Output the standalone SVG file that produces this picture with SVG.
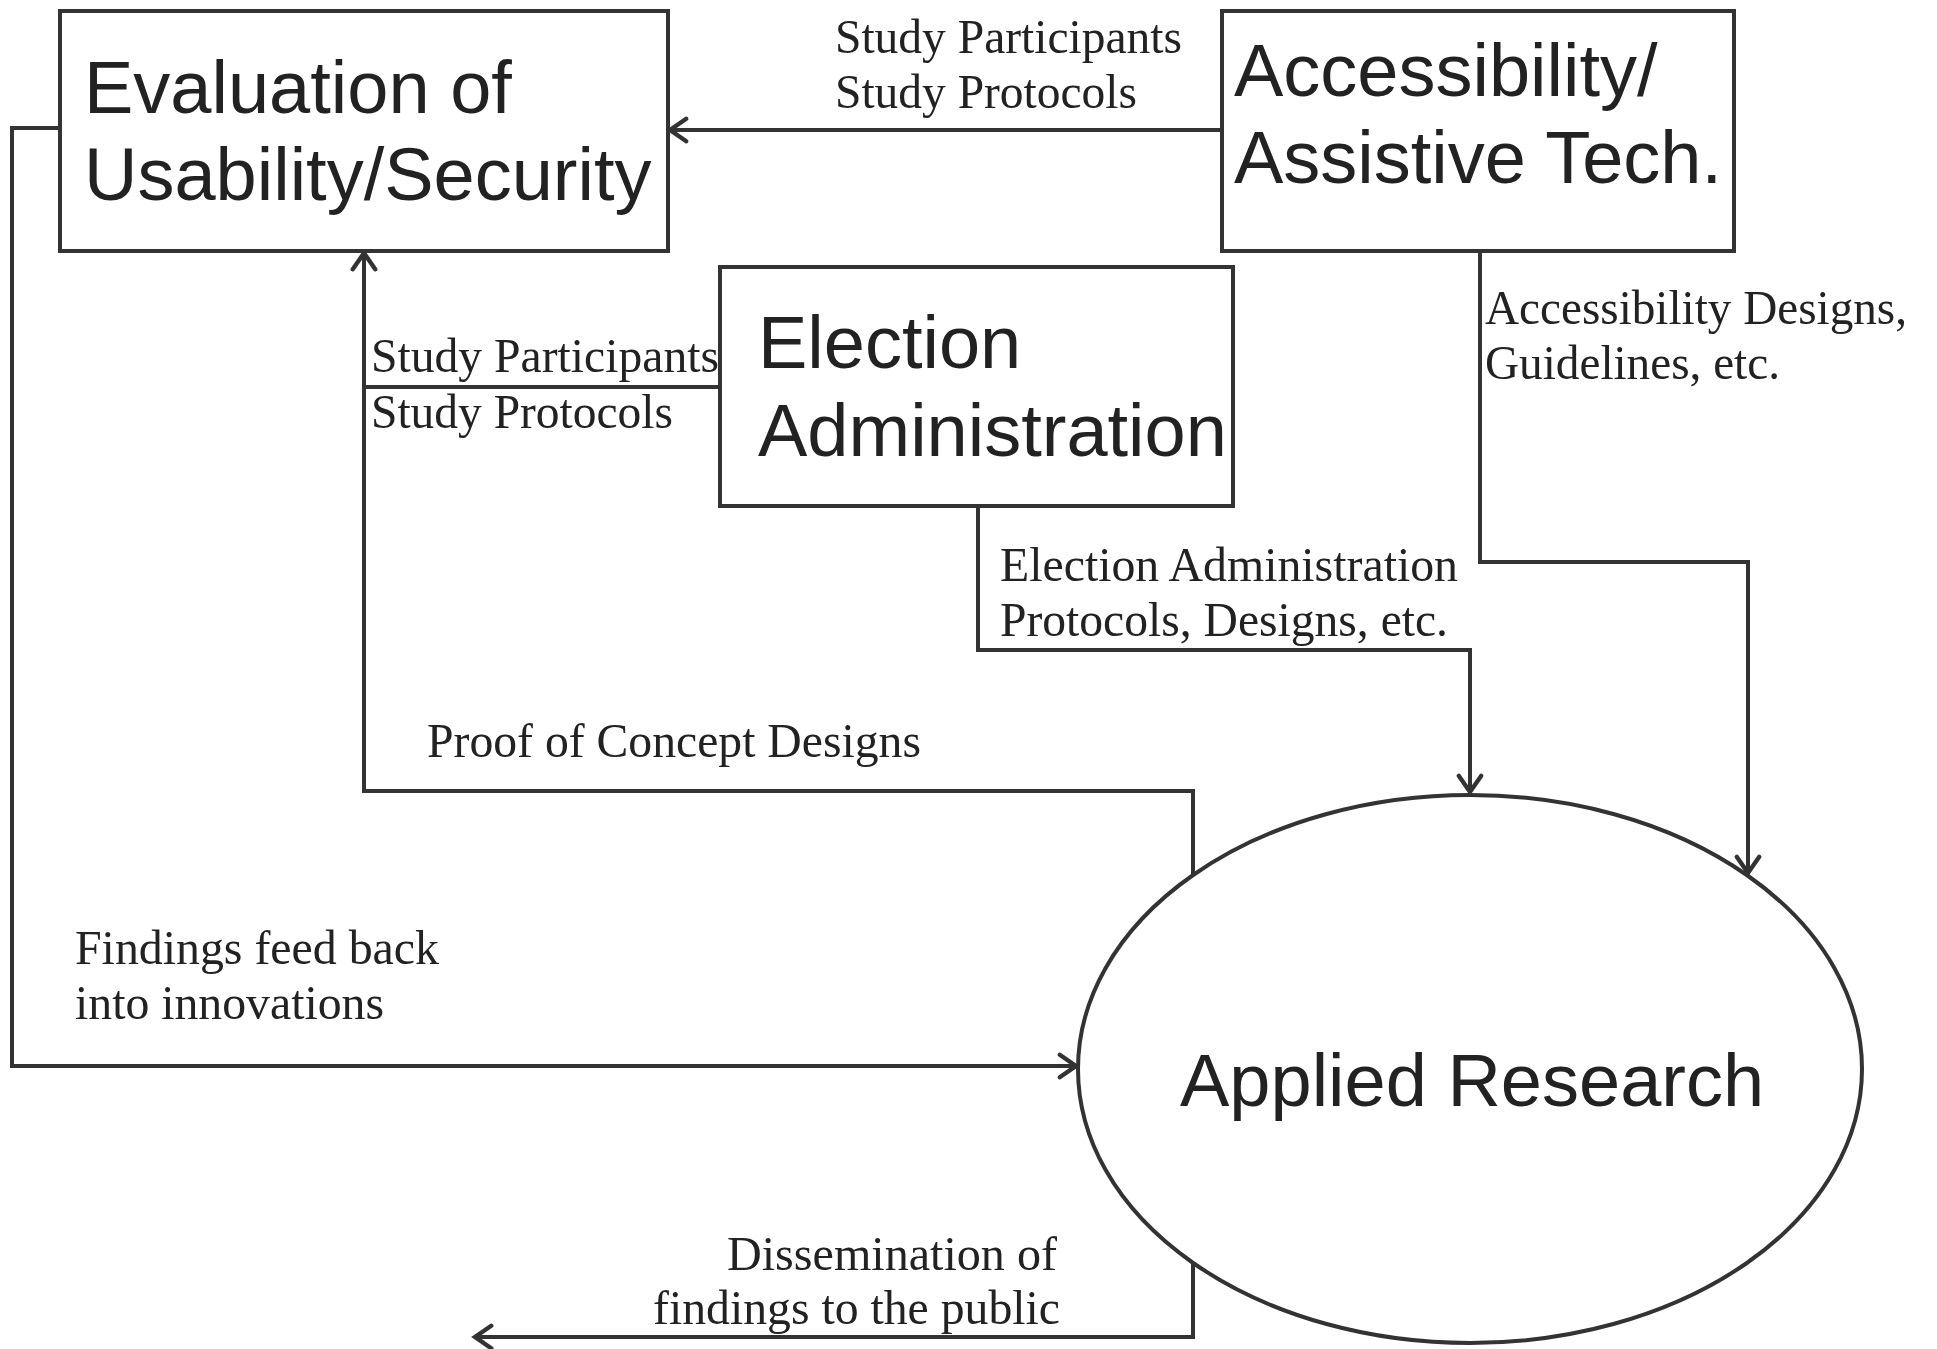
<svg xmlns="http://www.w3.org/2000/svg" width="1937" height="1349" viewBox="0 0 1937 1349">
<style>
.box{fill:#fff;stroke:#333;stroke-width:4}
.node{font-family:"Liberation Sans",Arial,sans-serif;font-size:74px;fill:#222}
.lbl{font-family:"Liberation Serif","Times New Roman",serif;font-size:49px;fill:#222}
.c{fill:none;stroke:#333;stroke-width:4;stroke-linejoin:miter}
</style>
<defs>
<marker id="ah" markerUnits="userSpaceOnUse" markerWidth="30" markerHeight="30" viewBox="-16 -12 20 24" refX="0" refY="0" orient="auto">
<path d="M -13 -9 L 0 0 L -13 9" fill="none" stroke="#333" stroke-width="3.5" stroke-linecap="round"/>
</marker>
</defs>
<rect width="1937" height="1349" fill="#fff"/>
<g id="connectors">
<path class="c" d="M 1222 130 L 670 130" marker-end="url(#ah)"/>
<path class="c" d="M 720 387 L 364 387"/>
<path class="c" d="M 1193 876 L 1193 791 L 364 791 L 364 253" marker-end="url(#ah)"/>
<path class="c" d="M 978 506 L 978 650 L 1470 650 L 1470 792" marker-end="url(#ah)"/>
<path class="c" d="M 1480 251 L 1480 562 L 1748 562 L 1748 873" marker-end="url(#ah)"/>
<path class="c" d="M 59 128 L 12 128 L 12 1066 L 1076 1066" marker-end="url(#ah)"/>
<path class="c" d="M 1193 1262 L 1193 1337 L 475 1337" marker-end="url(#ah)"/>
</g>
<g id="labels">
<text class="lbl" x="835" y="53" textLength="347" lengthAdjust="spacingAndGlyphs">Study Participants</text>
<text class="lbl" x="835" y="108" textLength="302" lengthAdjust="spacingAndGlyphs">Study Protocols</text>
<text class="lbl" x="371" y="372" textLength="348" lengthAdjust="spacingAndGlyphs">Study Participants</text>
<text class="lbl" x="371" y="428" textLength="302" lengthAdjust="spacingAndGlyphs">Study Protocols</text>
<text class="lbl" x="1485" y="324" textLength="422" lengthAdjust="spacingAndGlyphs">Accessibility Designs,</text>
<text class="lbl" x="1485" y="379" textLength="295" lengthAdjust="spacingAndGlyphs">Guidelines, etc.</text>
<text class="lbl" x="1000" y="581" textLength="458" lengthAdjust="spacingAndGlyphs">Election Administration</text>
<text class="lbl" x="1000" y="636" textLength="448" lengthAdjust="spacingAndGlyphs">Protocols, Designs, etc.</text>
<text class="lbl" x="427" y="757" textLength="494" lengthAdjust="spacingAndGlyphs">Proof of Concept Designs</text>
<text class="lbl" x="75" y="964" textLength="364" lengthAdjust="spacingAndGlyphs">Findings feed back</text>
<text class="lbl" x="75" y="1019" textLength="309" lengthAdjust="spacingAndGlyphs">into innovations</text>
<text class="lbl" x="1057" y="1270" text-anchor="end" textLength="330" lengthAdjust="spacingAndGlyphs">Dissemination of</text>
<text class="lbl" x="1060" y="1324" text-anchor="end" textLength="407" lengthAdjust="spacingAndGlyphs">findings to the public</text>
</g>
<g id="eval">
<rect class="box" x="60" y="11" width="608" height="240"/>
<text class="node" x="84" y="113">Evaluation of</text>
<text class="node" x="84" y="200">Usability/Security</text>
</g>
<g id="access">
<rect class="box" x="1222" y="11" width="512" height="240"/>
<text class="node" x="1234" y="96">Accessibility/</text>
<text class="node" x="1234" y="183">Assistive Tech.</text>
</g>
<g id="election">
<rect class="box" x="720" y="267" width="513" height="239"/>
<text class="node" x="758" y="368">Election</text>
<text class="node" x="758" y="456">Administration</text>
</g>
<g id="applied">
<ellipse class="box" cx="1470" cy="1069" rx="392" ry="274"/>
<text class="node" x="1180" y="1106">Applied Research</text>
</g>
</svg>
